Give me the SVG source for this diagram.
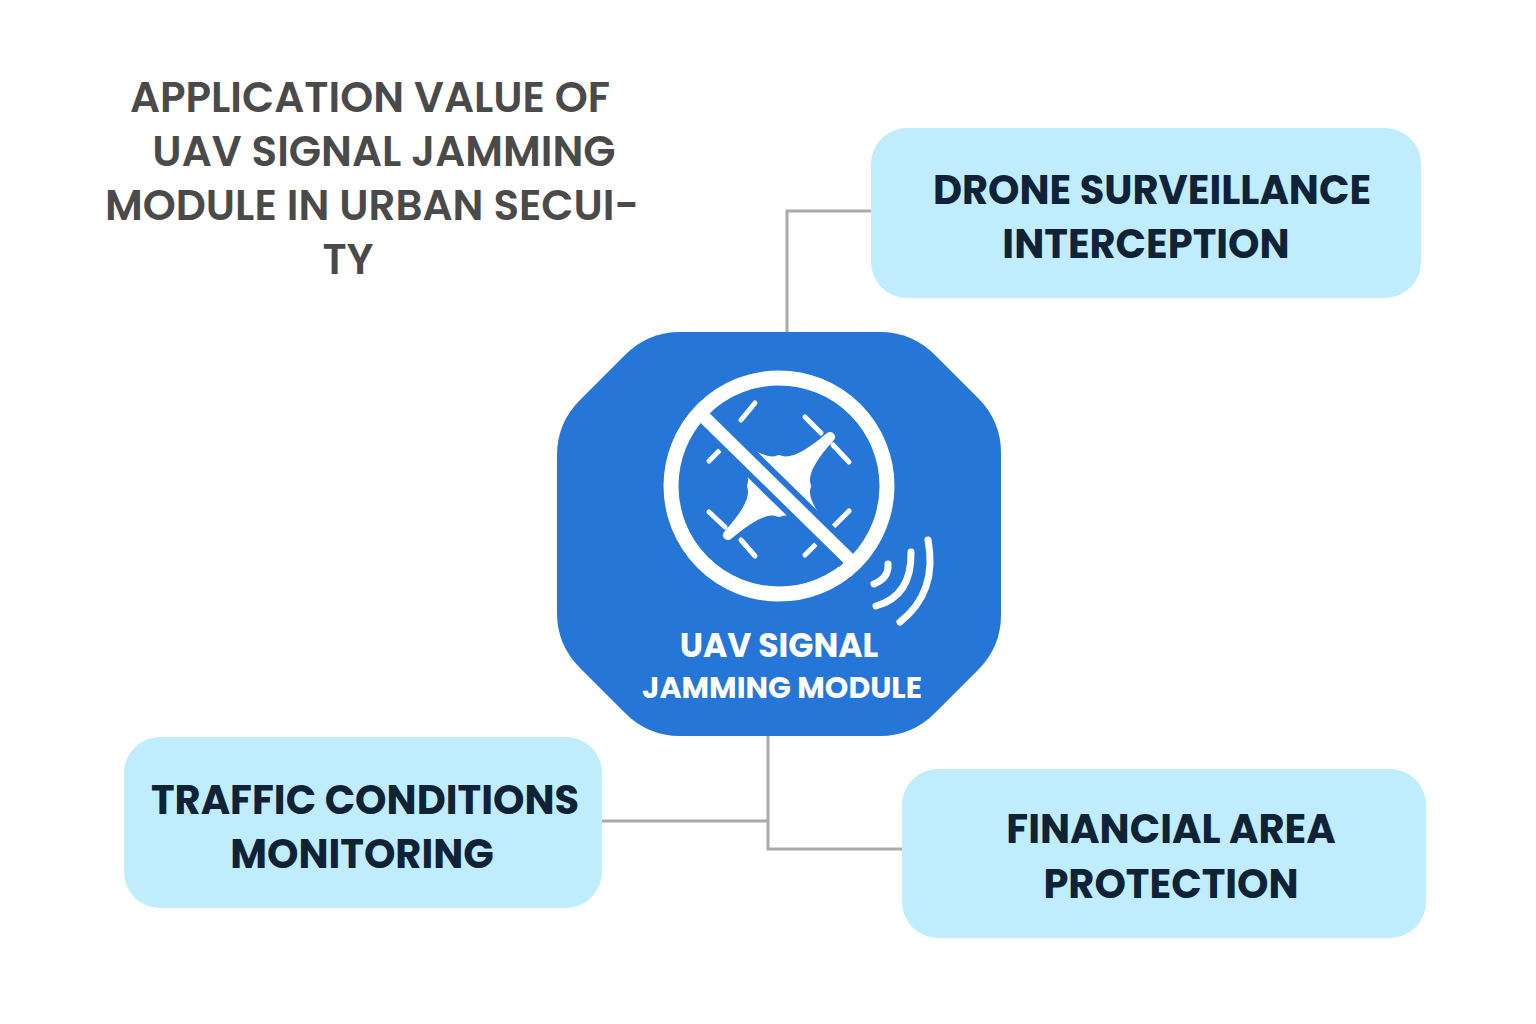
<svg xmlns="http://www.w3.org/2000/svg" width="1536" height="1024" viewBox="0 0 1536 1024">
<style>
.box{fill:#bfedfd}
.lbl{font-family:Poppins,"Open Sans","Noto Sans",sans-serif;font-weight:700;font-size:40px;fill:#0f2236;text-anchor:middle}
.title{font-family:Poppins,"Open Sans","Noto Sans",sans-serif;font-weight:600;font-size:42px;fill:#4a4a4a;text-anchor:middle}
.conn{fill:none;stroke:#aaaaaa;stroke-width:3}
.w{stroke:#fff;fill:none;stroke-linecap:round}
</style>
<rect width="1536" height="1024" fill="#fff"/>
<g id="title">
<text class="title" x="370" y="112">APPLICATION VALUE OF</text>
<text class="title" x="384" y="166">UAV SIGNAL JAMMING</text>
<text class="title" x="372" y="220">MODULE IN URBAN SECUI-</text>
<text class="title" x="348" y="274">TY</text>
</g>
<g id="connectors">
<polyline class="conn" points="787,332 787,211 872,211"/>
<polyline class="conn" points="768,736 768,849 903,849"/>
<polyline class="conn" points="602,821 768,821"/>
</g>
<g id="center">
<path d="M680,332 H880 Q912,332 935,355 L978,398 Q1001,421 1001,453 V615 Q1001,647 978,670 L935,713 Q912,736 880,736 H680 Q648,736 625,713 L580,668 Q557,645 557,613 V455 Q557,423 580,400 L625,355 Q648,332 680,332 Z" fill="#2576d6"/>
<circle class="w" cx="779" cy="486" r="108" stroke-width="15"/>
<path d="M830,437 Q800,470 806,486 Q800,502 830,535 Q795,505 779,512 Q763,505 728,535 Q758,502 752,486 Q758,470 728,437 Q763,467 779,460 Q795,467 830,437 Z" fill="#fff" stroke="#fff" stroke-width="10" stroke-linejoin="round"/>
<g class="w" stroke-width="5">
<line x1="709" y1="461" x2="725" y2="445"/><line x1="741" y1="420" x2="755" y2="403"/>
<line x1="805" y1="417" x2="821" y2="433"/><line x1="833" y1="445" x2="849" y2="462"/>
<line x1="709" y1="512" x2="725" y2="527"/><line x1="741" y1="540" x2="755" y2="556"/>
<line x1="805" y1="555" x2="821" y2="539"/><line x1="833" y1="527" x2="849" y2="511"/>
</g>
<line x1="712" y1="425" x2="848" y2="558" stroke="#2576d6" stroke-width="25"/>
<line class="w" x1="705" y1="418" x2="854" y2="564" stroke-width="13"/>
<g class="w" stroke-width="7">
<path d="M874,584 Q889,578 888,564"/>
<path d="M876,606 Q912,596 911,552"/>
<path d="M900,622 Q938,592 928,540"/>
</g>
<text x="779" y="657" font-family="Poppins,'Open Sans','Noto Sans',sans-serif" font-weight="700" font-size="33" fill="#fff" text-anchor="middle">UAV SIGNAL</text>
<text x="782" y="698" font-family="Poppins,'Open Sans','Noto Sans',sans-serif" font-weight="700" font-size="30" fill="#fff" text-anchor="middle">JAMMING MODULE</text>
</g>
<g id="drone-surveillance">
<rect class="box" x="871" y="128" width="550" height="170" rx="36"/>
<text class="lbl" x="1152" y="204" font-size="42">DRONE SURVEILLANCE</text>
<text class="lbl" x="1146" y="258" font-size="42">INTERCEPTION</text>
</g>
<g id="traffic">
<rect class="box" x="124" y="737" width="478" height="171" rx="36"/>
<text class="lbl" x="365" y="814">TRAFFIC CONDITIONS</text>
<text class="lbl" x="362" y="868">MONITORING</text>
</g>
<g id="financial">
<rect class="box" x="902" y="769" width="524" height="169" rx="36"/>
<text class="lbl" x="1171" y="843">FINANCIAL AREA</text>
<text class="lbl" x="1171" y="898">PROTECTION</text>
</g>
</svg>
